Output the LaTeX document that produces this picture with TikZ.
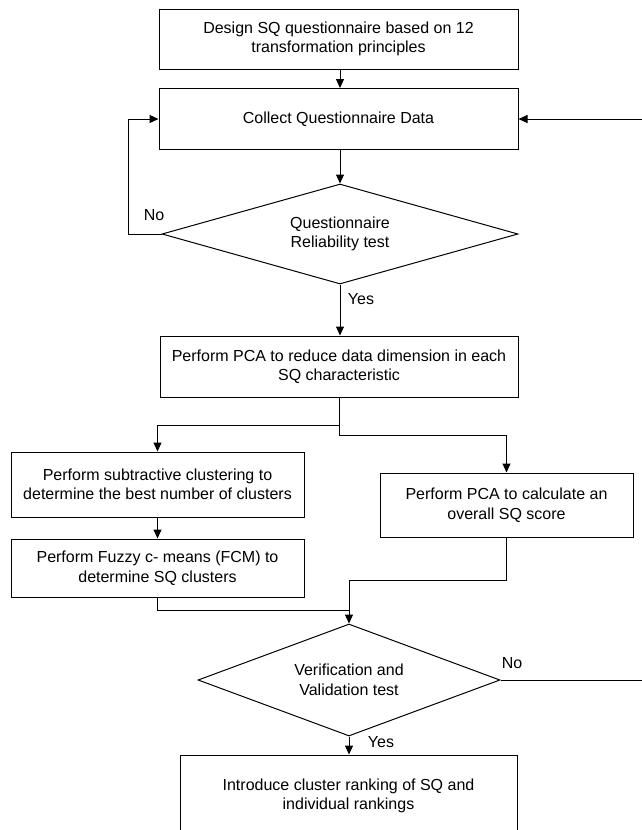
\documentclass[tikz,border=0pt]{standalone}
\usepackage{fontspec}
\setmainfont{Liberation Sans}
\usetikzlibrary{arrows.meta,shapes.geometric}
\begin{document}
\begin{tikzpicture}[x=1pt,y=-1pt,
  every node/.style={font=\fontsize{16}{19.5}\selectfont, text=black},
  procbox/.style={draw, line width=1pt, rectangle, inner sep=0pt, align=center},
  decbox/.style={draw, line width=1pt, diamond, inner sep=0pt, align=center},
  conn/.style={line width=1pt},
  arr/.style={line width=1pt, -{Triangle[length=9pt,width=8pt]}},
  lbl/.style={inner sep=0pt}
]
\clip (0,0) rectangle (642,830);
\fill[white] (0,0) rectangle (642,830);

\node[procbox, minimum width=359pt, minimum height=60pt] (top) at (338.5,39)
  {Design SQ questionnaire based on 12\\transformation principles};
\node[procbox, minimum width=359pt, minimum height=61pt] (collect) at (338.5,119)
  {Collect Questionnaire Data};
\node[decbox, aspect=3.56, minimum width=356pt, minimum height=100pt] (d1) at (340,234)
  {Questionnaire\\Reliability test};
\node[procbox, minimum width=358pt, minimum height=61pt] (pca) at (339,366.5)
  {Perform PCA to reduce data dimension in each\\SQ characteristic};
\node[procbox, minimum width=293pt, minimum height=65pt] (sub) at (157.5,484.5)
  {Perform subtractive clustering to\\determine the best number of clusters};
\node[procbox, minimum width=293pt, minimum height=58pt] (fcm) at (157.5,568)
  {Perform Fuzzy c- means (FCM) to\\determine SQ clusters};
\node[procbox, minimum width=253pt, minimum height=64pt] (ov) at (506.5,505)
  {Perform PCA to calculate an\\overall SQ score};
\node[decbox, aspect=2.7, minimum width=302pt, minimum height=112pt] (d2) at (349,680)
  {Verification and\\Validation test};
\node[procbox, minimum width=337pt, minimum height=82pt] (fin) at (348.5,796)
  {Introduce cluster ranking of SQ and\\individual rankings};

\node[lbl] (no1) at (154,215) {No};
\node[lbl] (yes1) at (361,299) {Yes};
\node[lbl] (no2) at (512,663) {No};
\node[lbl] (yes2) at (381,742) {Yes};

\coordinate (loopx) at (128.7,234);
\coordinate (rin) at (642,119);
\coordinate (rout) at (642,680);
\coordinate (j1) at (339,425);
\coordinate (j2) at (339,435);
\coordinate (m1) at (349,580);
\coordinate (m2) at (349,610);

\draw[arr] (top.south -| d1.north) -- (collect.north -| d1.north);
\draw[arr] (collect.south -| d1.north) -- (d1.north);
\draw[arr] (d1.west) -- (loopx) |- (collect.west);
\draw[arr] (rin) -- (collect.east);
\draw[arr] (d1.south) -- (pca.north -| d1.south);
\draw[conn] (pca.south) -- (j1);
\draw[arr] (j1) -| (sub.north);
\draw[arr] (j1) -- (j2) -| (ov.north);
\draw[arr] (sub.south) -- (fcm.north);
\draw[conn] (fcm.south) |- (m2);
\draw[arr] (ov.south) |- (m1) -- (d2.north);
\draw[conn] (d2.east) -- (rout);
\draw[arr] (d2.south) -- (fin.north -| d2.south);
\end{tikzpicture}
\end{document}
